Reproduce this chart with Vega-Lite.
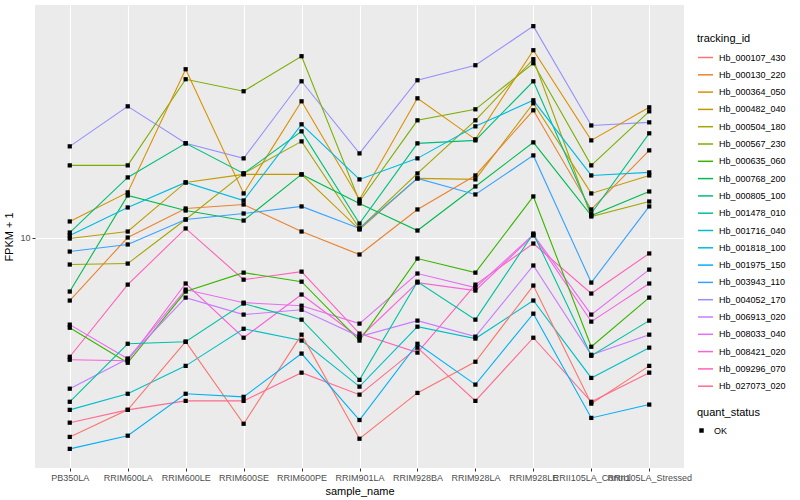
{
  "$schema": "https://vega.github.io/schema/vega-lite/v6.json",
  "width": 649,
  "height": 463,
  "autosize": {"type": "none"},
  "padding": {"left": 35, "top": 5, "right": 116, "bottom": 32},
  "background": "white",
  "data": {"values": [
    {"tracking_id":"Hb_004052_170","sample_name":"PB350LA","fpkm":20.11,"quant_status":"OK"},
    {"tracking_id":"Hb_004052_170","sample_name":"RRIM600LA","fpkm":27.33,"quant_status":"OK"},
    {"tracking_id":"Hb_004052_170","sample_name":"RRIM600LE","fpkm":20.58,"quant_status":"OK"},
    {"tracking_id":"Hb_004052_170","sample_name":"RRIM600SE","fpkm":18.34,"quant_status":"OK"},
    {"tracking_id":"Hb_004052_170","sample_name":"RRIM600PE","fpkm":33.11,"quant_status":"OK"},
    {"tracking_id":"Hb_004052_170","sample_name":"RRIM901LA","fpkm":19.05,"quant_status":"OK"},
    {"tracking_id":"Hb_004052_170","sample_name":"RRIM928BA","fpkm":33.37,"quant_status":"OK"},
    {"tracking_id":"Hb_004052_170","sample_name":"RRIM928LA","fpkm":37.44,"quant_status":"OK"},
    {"tracking_id":"Hb_004052_170","sample_name":"RRIM928LE","fpkm":50.51,"quant_status":"OK"},
    {"tracking_id":"Hb_004052_170","sample_name":"RRII105LA_Control","fpkm":23.6,"quant_status":"OK"},
    {"tracking_id":"Hb_004052_170","sample_name":"RRII105LA_Stressed","fpkm":24.17,"quant_status":"OK"},

    {"tracking_id":"Hb_000567_230","sample_name":"PB350LA","fpkm":17.38,"quant_status":"OK"},
    {"tracking_id":"Hb_000567_230","sample_name":"RRIM600LA","fpkm":17.38,"quant_status":"OK"},
    {"tracking_id":"Hb_000567_230","sample_name":"RRIM600LE","fpkm":33.63,"quant_status":"OK"},
    {"tracking_id":"Hb_000567_230","sample_name":"RRIM600SE","fpkm":30.67,"quant_status":"OK"},
    {"tracking_id":"Hb_000567_230","sample_name":"RRIM600PE","fpkm":40.12,"quant_status":"OK"},
    {"tracking_id":"Hb_000567_230","sample_name":"RRIM901LA","fpkm":13.18,"quant_status":"OK"},
    {"tracking_id":"Hb_000567_230","sample_name":"RRIM928BA","fpkm":24.55,"quant_status":"OK"},
    {"tracking_id":"Hb_000567_230","sample_name":"RRIM928LA","fpkm":26.71,"quant_status":"OK"},
    {"tracking_id":"Hb_000567_230","sample_name":"RRIM928LE","fpkm":38.02,"quant_status":"OK"},
    {"tracking_id":"Hb_000567_230","sample_name":"RRII105LA_Control","fpkm":17.38,"quant_status":"OK"},
    {"tracking_id":"Hb_000567_230","sample_name":"RRII105LA_Stressed","fpkm":26.30,"quant_status":"OK"},

    {"tracking_id":"Hb_000364_050","sample_name":"PB350LA","fpkm":11.31,"quant_status":"OK"},
    {"tracking_id":"Hb_000364_050","sample_name":"RRIM600LA","fpkm":14.13,"quant_status":"OK"},
    {"tracking_id":"Hb_000364_050","sample_name":"RRIM600LE","fpkm":36.31,"quant_status":"OK"},
    {"tracking_id":"Hb_000364_050","sample_name":"RRIM600SE","fpkm":14.02,"quant_status":"OK"},
    {"tracking_id":"Hb_000364_050","sample_name":"RRIM600PE","fpkm":28.40,"quant_status":"OK"},
    {"tracking_id":"Hb_000364_050","sample_name":"RRIM901LA","fpkm":13.39,"quant_status":"OK"},
    {"tracking_id":"Hb_000364_050","sample_name":"RRIM928BA","fpkm":29.06,"quant_status":"OK"},
    {"tracking_id":"Hb_000364_050","sample_name":"RRIM928LA","fpkm":21.22,"quant_status":"OK"},
    {"tracking_id":"Hb_000364_050","sample_name":"RRIM928LE","fpkm":42.01,"quant_status":"OK"},
    {"tracking_id":"Hb_000364_050","sample_name":"RRII105LA_Control","fpkm":21.05,"quant_status":"OK"},
    {"tracking_id":"Hb_000364_050","sample_name":"RRII105LA_Stressed","fpkm":27.12,"quant_status":"OK"},

    {"tracking_id":"Hb_000482_040","sample_name":"PB350LA","fpkm":9.92,"quant_status":"OK"},
    {"tracking_id":"Hb_000482_040","sample_name":"RRIM600LA","fpkm":10.47,"quant_status":"OK"},
    {"tracking_id":"Hb_000482_040","sample_name":"RRIM600LE","fpkm":15.25,"quant_status":"OK"},
    {"tracking_id":"Hb_000482_040","sample_name":"RRIM600SE","fpkm":16.22,"quant_status":"OK"},
    {"tracking_id":"Hb_000482_040","sample_name":"RRIM600PE","fpkm":16.22,"quant_status":"OK"},
    {"tracking_id":"Hb_000482_040","sample_name":"RRIM901LA","fpkm":10.63,"quant_status":"OK"},
    {"tracking_id":"Hb_000482_040","sample_name":"RRIM928BA","fpkm":15.73,"quant_status":"OK"},
    {"tracking_id":"Hb_000482_040","sample_name":"RRIM928LA","fpkm":15.61,"quant_status":"OK"},
    {"tracking_id":"Hb_000482_040","sample_name":"RRIM928LE","fpkm":27.97,"quant_status":"OK"},
    {"tracking_id":"Hb_000482_040","sample_name":"RRII105LA_Control","fpkm":14.02,"quant_status":"OK"},
    {"tracking_id":"Hb_000482_040","sample_name":"RRII105LA_Stressed","fpkm":16.09,"quant_status":"OK"},

    {"tracking_id":"Hb_000504_180","sample_name":"PB350LA","fpkm":8.13,"quant_status":"OK"},
    {"tracking_id":"Hb_000504_180","sample_name":"RRIM600LA","fpkm":8.19,"quant_status":"OK"},
    {"tracking_id":"Hb_000504_180","sample_name":"RRIM600LE","fpkm":11.48,"quant_status":"OK"},
    {"tracking_id":"Hb_000504_180","sample_name":"RRIM600SE","fpkm":16.34,"quant_status":"OK"},
    {"tracking_id":"Hb_000504_180","sample_name":"RRIM600PE","fpkm":20.89,"quant_status":"OK"},
    {"tracking_id":"Hb_000504_180","sample_name":"RRIM901LA","fpkm":10.72,"quant_status":"OK"},
    {"tracking_id":"Hb_000504_180","sample_name":"RRIM928BA","fpkm":16.34,"quant_status":"OK"},
    {"tracking_id":"Hb_000504_180","sample_name":"RRIM928LA","fpkm":24.55,"quant_status":"OK"},
    {"tracking_id":"Hb_000504_180","sample_name":"RRIM928LE","fpkm":39.21,"quant_status":"OK"},
    {"tracking_id":"Hb_000504_180","sample_name":"RRII105LA_Control","fpkm":11.75,"quant_status":"OK"},
    {"tracking_id":"Hb_000504_180","sample_name":"RRII105LA_Stressed","fpkm":13.18,"quant_status":"OK"},

    {"tracking_id":"Hb_000130_220","sample_name":"PB350LA","fpkm":6.17,"quant_status":"OK"},
    {"tracking_id":"Hb_000130_220","sample_name":"RRIM600LA","fpkm":10.00,"quant_status":"OK"},
    {"tracking_id":"Hb_000130_220","sample_name":"RRIM600LE","fpkm":12.49,"quant_status":"OK"},
    {"tracking_id":"Hb_000130_220","sample_name":"RRIM600SE","fpkm":12.88,"quant_status":"OK"},
    {"tracking_id":"Hb_000130_220","sample_name":"RRIM600PE","fpkm":10.47,"quant_status":"OK"},
    {"tracking_id":"Hb_000130_220","sample_name":"RRIM901LA","fpkm":8.78,"quant_status":"OK"},
    {"tracking_id":"Hb_000130_220","sample_name":"RRIM928BA","fpkm":12.40,"quant_status":"OK"},
    {"tracking_id":"Hb_000130_220","sample_name":"RRIM928LA","fpkm":16.09,"quant_status":"OK"},
    {"tracking_id":"Hb_000130_220","sample_name":"RRIM928LE","fpkm":26.51,"quant_status":"OK"},
    {"tracking_id":"Hb_000130_220","sample_name":"RRII105LA_Control","fpkm":12.40,"quant_status":"OK"},
    {"tracking_id":"Hb_000130_220","sample_name":"RRII105LA_Stressed","fpkm":19.50,"quant_status":"OK"},

    {"tracking_id":"Hb_000768_200","sample_name":"PB350LA","fpkm":6.61,"quant_status":"OK"},
    {"tracking_id":"Hb_000768_200","sample_name":"RRIM600LA","fpkm":13.80,"quant_status":"OK"},
    {"tracking_id":"Hb_000768_200","sample_name":"RRIM600LE","fpkm":12.30,"quant_status":"OK"},
    {"tracking_id":"Hb_000768_200","sample_name":"RRIM600SE","fpkm":11.39,"quant_status":"OK"},
    {"tracking_id":"Hb_000768_200","sample_name":"RRIM600PE","fpkm":16.22,"quant_status":"OK"},
    {"tracking_id":"Hb_000768_200","sample_name":"RRIM901LA","fpkm":12.98,"quant_status":"OK"},
    {"tracking_id":"Hb_000768_200","sample_name":"RRIM928BA","fpkm":10.55,"quant_status":"OK"},
    {"tracking_id":"Hb_000768_200","sample_name":"RRIM928LA","fpkm":14.79,"quant_status":"OK"},
    {"tracking_id":"Hb_000768_200","sample_name":"RRIM928LE","fpkm":20.73,"quant_status":"OK"},
    {"tracking_id":"Hb_000768_200","sample_name":"RRII105LA_Control","fpkm":11.84,"quant_status":"OK"},
    {"tracking_id":"Hb_000768_200","sample_name":"RRII105LA_Stressed","fpkm":14.23,"quant_status":"OK"},

    {"tracking_id":"Hb_000805_100","sample_name":"PB350LA","fpkm":10.39,"quant_status":"OK"},
    {"tracking_id":"Hb_000805_100","sample_name":"RRIM600LA","fpkm":15.85,"quant_status":"OK"},
    {"tracking_id":"Hb_000805_100","sample_name":"RRIM600LE","fpkm":20.58,"quant_status":"OK"},
    {"tracking_id":"Hb_000805_100","sample_name":"RRIM600SE","fpkm":16.34,"quant_status":"OK"},
    {"tracking_id":"Hb_000805_100","sample_name":"RRIM600PE","fpkm":22.56,"quant_status":"OK"},
    {"tracking_id":"Hb_000805_100","sample_name":"RRIM901LA","fpkm":11.13,"quant_status":"OK"},
    {"tracking_id":"Hb_000805_100","sample_name":"RRIM928BA","fpkm":20.58,"quant_status":"OK"},
    {"tracking_id":"Hb_000805_100","sample_name":"RRIM928LA","fpkm":21.05,"quant_status":"OK"},
    {"tracking_id":"Hb_000805_100","sample_name":"RRIM928LE","fpkm":33.11,"quant_status":"OK"},
    {"tracking_id":"Hb_000805_100","sample_name":"RRII105LA_Control","fpkm":12.02,"quant_status":"OK"},
    {"tracking_id":"Hb_000805_100","sample_name":"RRII105LA_Stressed","fpkm":22.22,"quant_status":"OK"},

    {"tracking_id":"Hb_001818_100","sample_name":"PB350LA","fpkm":10.16,"quant_status":"OK"},
    {"tracking_id":"Hb_001818_100","sample_name":"RRIM600LA","fpkm":12.59,"quant_status":"OK"},
    {"tracking_id":"Hb_001818_100","sample_name":"RRIM600LE","fpkm":15.25,"quant_status":"OK"},
    {"tracking_id":"Hb_001818_100","sample_name":"RRIM600SE","fpkm":13.28,"quant_status":"OK"},
    {"tracking_id":"Hb_001818_100","sample_name":"RRIM600PE","fpkm":23.81,"quant_status":"OK"},
    {"tracking_id":"Hb_001818_100","sample_name":"RRIM901LA","fpkm":15.61,"quant_status":"OK"},
    {"tracking_id":"Hb_001818_100","sample_name":"RRIM928BA","fpkm":18.34,"quant_status":"OK"},
    {"tracking_id":"Hb_001818_100","sample_name":"RRIM928LA","fpkm":23.44,"quant_status":"OK"},
    {"tracking_id":"Hb_001818_100","sample_name":"RRIM928LE","fpkm":28.62,"quant_status":"OK"},
    {"tracking_id":"Hb_001818_100","sample_name":"RRII105LA_Control","fpkm":16.09,"quant_status":"OK"},
    {"tracking_id":"Hb_001818_100","sample_name":"RRII105LA_Stressed","fpkm":16.47,"quant_status":"OK"},

    {"tracking_id":"Hb_003943_110","sample_name":"PB350LA","fpkm":8.98,"quant_status":"OK"},
    {"tracking_id":"Hb_003943_110","sample_name":"RRIM600LA","fpkm":9.48,"quant_status":"OK"},
    {"tracking_id":"Hb_003943_110","sample_name":"RRIM600LE","fpkm":11.48,"quant_status":"OK"},
    {"tracking_id":"Hb_003943_110","sample_name":"RRIM600SE","fpkm":12.02,"quant_status":"OK"},
    {"tracking_id":"Hb_003943_110","sample_name":"RRIM600PE","fpkm":12.69,"quant_status":"OK"},
    {"tracking_id":"Hb_003943_110","sample_name":"RRIM901LA","fpkm":10.72,"quant_status":"OK"},
    {"tracking_id":"Hb_003943_110","sample_name":"RRIM928BA","fpkm":15.73,"quant_status":"OK"},
    {"tracking_id":"Hb_003943_110","sample_name":"RRIM928LA","fpkm":13.91,"quant_status":"OK"},
    {"tracking_id":"Hb_003943_110","sample_name":"RRIM928LE","fpkm":18.76,"quant_status":"OK"},
    {"tracking_id":"Hb_003943_110","sample_name":"RRII105LA_Control","fpkm":7.08,"quant_status":"OK"},
    {"tracking_id":"Hb_003943_110","sample_name":"RRII105LA_Stressed","fpkm":12.69,"quant_status":"OK"},

    {"tracking_id":"Hb_009296_070","sample_name":"PB350LA","fpkm":4.01,"quant_status":"OK"},
    {"tracking_id":"Hb_009296_070","sample_name":"RRIM600LA","fpkm":6.97,"quant_status":"OK"},
    {"tracking_id":"Hb_009296_070","sample_name":"RRIM600LE","fpkm":10.72,"quant_status":"OK"},
    {"tracking_id":"Hb_009296_070","sample_name":"RRIM600SE","fpkm":7.24,"quant_status":"OK"},
    {"tracking_id":"Hb_009296_070","sample_name":"RRIM600PE","fpkm":7.70,"quant_status":"OK"},
    {"tracking_id":"Hb_009296_070","sample_name":"RRIM901LA","fpkm":4.79,"quant_status":"OK"},
    {"tracking_id":"Hb_009296_070","sample_name":"RRIM928BA","fpkm":4.14,"quant_status":"OK"},
    {"tracking_id":"Hb_009296_070","sample_name":"RRIM928LA","fpkm":6.97,"quant_status":"OK"},
    {"tracking_id":"Hb_009296_070","sample_name":"RRIM928LE","fpkm":9.55,"quant_status":"OK"},
    {"tracking_id":"Hb_009296_070","sample_name":"RRII105LA_Control","fpkm":6.51,"quant_status":"OK"},
    {"tracking_id":"Hb_009296_070","sample_name":"RRII105LA_Stressed","fpkm":8.85,"quant_status":"OK"},

    {"tracking_id":"Hb_008421_020","sample_name":"PB350LA","fpkm":3.92,"quant_status":"OK"},
    {"tracking_id":"Hb_008421_020","sample_name":"RRIM600LA","fpkm":3.89,"quant_status":"OK"},
    {"tracking_id":"Hb_008421_020","sample_name":"RRIM600LE","fpkm":7.03,"quant_status":"OK"},
    {"tracking_id":"Hb_008421_020","sample_name":"RRIM600SE","fpkm":4.64,"quant_status":"OK"},
    {"tracking_id":"Hb_008421_020","sample_name":"RRIM600PE","fpkm":6.46,"quant_status":"OK"},
    {"tracking_id":"Hb_008421_020","sample_name":"RRIM901LA","fpkm":4.64,"quant_status":"OK"},
    {"tracking_id":"Hb_008421_020","sample_name":"RRIM928BA","fpkm":7.08,"quant_status":"OK"},
    {"tracking_id":"Hb_008421_020","sample_name":"RRIM928LA","fpkm":6.66,"quant_status":"OK"},
    {"tracking_id":"Hb_008421_020","sample_name":"RRIM928LE","fpkm":10.16,"quant_status":"OK"},
    {"tracking_id":"Hb_008421_020","sample_name":"RRII105LA_Control","fpkm":5.25,"quant_status":"OK"},
    {"tracking_id":"Hb_008421_020","sample_name":"RRII105LA_Stressed","fpkm":7.03,"quant_status":"OK"},

    {"tracking_id":"Hb_008033_040","sample_name":"PB350LA","fpkm":5.13,"quant_status":"OK"},
    {"tracking_id":"Hb_008033_040","sample_name":"RRIM600LA","fpkm":3.95,"quant_status":"OK"},
    {"tracking_id":"Hb_008033_040","sample_name":"RRIM600LE","fpkm":6.71,"quant_status":"OK"},
    {"tracking_id":"Hb_008033_040","sample_name":"RRIM600SE","fpkm":6.07,"quant_status":"OK"},
    {"tracking_id":"Hb_008033_040","sample_name":"RRIM600PE","fpkm":5.93,"quant_status":"OK"},
    {"tracking_id":"Hb_008033_040","sample_name":"RRIM901LA","fpkm":5.17,"quant_status":"OK"},
    {"tracking_id":"Hb_008033_040","sample_name":"RRIM928BA","fpkm":7.59,"quant_status":"OK"},
    {"tracking_id":"Hb_008033_040","sample_name":"RRIM928LA","fpkm":6.81,"quant_status":"OK"},
    {"tracking_id":"Hb_008033_040","sample_name":"RRIM928LE","fpkm":10.23,"quant_status":"OK"},
    {"tracking_id":"Hb_008033_040","sample_name":"RRII105LA_Control","fpkm":5.54,"quant_status":"OK"},
    {"tracking_id":"Hb_008033_040","sample_name":"RRII105LA_Stressed","fpkm":7.82,"quant_status":"OK"},

    {"tracking_id":"Hb_000635_060","sample_name":"PB350LA","fpkm":5.01,"quant_status":"OK"},
    {"tracking_id":"Hb_000635_060","sample_name":"RRIM600LA","fpkm":3.83,"quant_status":"OK"},
    {"tracking_id":"Hb_000635_060","sample_name":"RRIM600LE","fpkm":6.61,"quant_status":"OK"},
    {"tracking_id":"Hb_000635_060","sample_name":"RRIM600SE","fpkm":7.64,"quant_status":"OK"},
    {"tracking_id":"Hb_000635_060","sample_name":"RRIM600PE","fpkm":7.13,"quant_status":"OK"},
    {"tracking_id":"Hb_000635_060","sample_name":"RRIM901LA","fpkm":4.54,"quant_status":"OK"},
    {"tracking_id":"Hb_000635_060","sample_name":"RRIM928BA","fpkm":8.51,"quant_status":"OK"},
    {"tracking_id":"Hb_000635_060","sample_name":"RRIM928LA","fpkm":7.64,"quant_status":"OK"},
    {"tracking_id":"Hb_000635_060","sample_name":"RRIM928LE","fpkm":13.70,"quant_status":"OK"},
    {"tracking_id":"Hb_000635_060","sample_name":"RRII105LA_Control","fpkm":4.33,"quant_status":"OK"},
    {"tracking_id":"Hb_000635_060","sample_name":"RRII105LA_Stressed","fpkm":6.31,"quant_status":"OK"},

    {"tracking_id":"Hb_006913_020","sample_name":"PB350LA","fpkm":3.14,"quant_status":"OK"},
    {"tracking_id":"Hb_006913_020","sample_name":"RRIM600LA","fpkm":3.95,"quant_status":"OK"},
    {"tracking_id":"Hb_006913_020","sample_name":"RRIM600LE","fpkm":6.31,"quant_status":"OK"},
    {"tracking_id":"Hb_006913_020","sample_name":"RRIM600SE","fpkm":5.54,"quant_status":"OK"},
    {"tracking_id":"Hb_006913_020","sample_name":"RRIM600PE","fpkm":5.75,"quant_status":"OK"},
    {"tracking_id":"Hb_006913_020","sample_name":"RRIM901LA","fpkm":4.68,"quant_status":"OK"},
    {"tracking_id":"Hb_006913_020","sample_name":"RRIM928BA","fpkm":5.29,"quant_status":"OK"},
    {"tracking_id":"Hb_006913_020","sample_name":"RRIM928LA","fpkm":4.68,"quant_status":"OK"},
    {"tracking_id":"Hb_006913_020","sample_name":"RRIM928LE","fpkm":8.07,"quant_status":"OK"},
    {"tracking_id":"Hb_006913_020","sample_name":"RRII105LA_Control","fpkm":4.07,"quant_status":"OK"},
    {"tracking_id":"Hb_006913_020","sample_name":"RRII105LA_Stressed","fpkm":4.75,"quant_status":"OK"},

    {"tracking_id":"Hb_001478_010","sample_name":"PB350LA","fpkm":2.84,"quant_status":"OK"},
    {"tracking_id":"Hb_001478_010","sample_name":"RRIM600LA","fpkm":4.43,"quant_status":"OK"},
    {"tracking_id":"Hb_001478_010","sample_name":"RRIM600LE","fpkm":4.50,"quant_status":"OK"},
    {"tracking_id":"Hb_001478_010","sample_name":"RRIM600SE","fpkm":6.03,"quant_status":"OK"},
    {"tracking_id":"Hb_001478_010","sample_name":"RRIM600PE","fpkm":5.33,"quant_status":"OK"},
    {"tracking_id":"Hb_001478_010","sample_name":"RRIM901LA","fpkm":3.36,"quant_status":"OK"},
    {"tracking_id":"Hb_001478_010","sample_name":"RRIM928BA","fpkm":7.13,"quant_status":"OK"},
    {"tracking_id":"Hb_001478_010","sample_name":"RRIM928LA","fpkm":5.33,"quant_status":"OK"},
    {"tracking_id":"Hb_001478_010","sample_name":"RRIM928LE","fpkm":10.31,"quant_status":"OK"},
    {"tracking_id":"Hb_001478_010","sample_name":"RRII105LA_Control","fpkm":4.04,"quant_status":"OK"},
    {"tracking_id":"Hb_001478_010","sample_name":"RRII105LA_Stressed","fpkm":5.29,"quant_status":"OK"},

    {"tracking_id":"Hb_001716_040","sample_name":"PB350LA","fpkm":2.67,"quant_status":"OK"},
    {"tracking_id":"Hb_001716_040","sample_name":"RRIM600LA","fpkm":3.02,"quant_status":"OK"},
    {"tracking_id":"Hb_001716_040","sample_name":"RRIM600LE","fpkm":3.74,"quant_status":"OK"},
    {"tracking_id":"Hb_001716_040","sample_name":"RRIM600SE","fpkm":4.97,"quant_status":"OK"},
    {"tracking_id":"Hb_001716_040","sample_name":"RRIM600PE","fpkm":4.54,"quant_status":"OK"},
    {"tracking_id":"Hb_001716_040","sample_name":"RRIM901LA","fpkm":3.19,"quant_status":"OK"},
    {"tracking_id":"Hb_001716_040","sample_name":"RRIM928BA","fpkm":5.05,"quant_status":"OK"},
    {"tracking_id":"Hb_001716_040","sample_name":"RRIM928LA","fpkm":4.61,"quant_status":"OK"},
    {"tracking_id":"Hb_001716_040","sample_name":"RRIM928LE","fpkm":6.17,"quant_status":"OK"},
    {"tracking_id":"Hb_001716_040","sample_name":"RRII105LA_Control","fpkm":3.41,"quant_status":"OK"},
    {"tracking_id":"Hb_001716_040","sample_name":"RRII105LA_Stressed","fpkm":4.30,"quant_status":"OK"},

    {"tracking_id":"Hb_000107_430","sample_name":"PB350LA","fpkm":2.17,"quant_status":"OK"},
    {"tracking_id":"Hb_000107_430","sample_name":"RRIM600LA","fpkm":2.67,"quant_status":"OK"},
    {"tracking_id":"Hb_000107_430","sample_name":"RRIM600LE","fpkm":4.50,"quant_status":"OK"},
    {"tracking_id":"Hb_000107_430","sample_name":"RRIM600SE","fpkm":2.40,"quant_status":"OK"},
    {"tracking_id":"Hb_000107_430","sample_name":"RRIM600PE","fpkm":4.75,"quant_status":"OK"},
    {"tracking_id":"Hb_000107_430","sample_name":"RRIM901LA","fpkm":2.14,"quant_status":"OK"},
    {"tracking_id":"Hb_000107_430","sample_name":"RRIM928BA","fpkm":3.04,"quant_status":"OK"},
    {"tracking_id":"Hb_000107_430","sample_name":"RRIM928LA","fpkm":3.86,"quant_status":"OK"},
    {"tracking_id":"Hb_000107_430","sample_name":"RRIM928LE","fpkm":6.92,"quant_status":"OK"},
    {"tracking_id":"Hb_000107_430","sample_name":"RRII105LA_Control","fpkm":2.80,"quant_status":"OK"},
    {"tracking_id":"Hb_000107_430","sample_name":"RRII105LA_Stressed","fpkm":3.74,"quant_status":"OK"},

    {"tracking_id":"Hb_027073_020","sample_name":"PB350LA","fpkm":2.42,"quant_status":"OK"},
    {"tracking_id":"Hb_027073_020","sample_name":"RRIM600LA","fpkm":2.67,"quant_status":"OK"},
    {"tracking_id":"Hb_027073_020","sample_name":"RRIM600LE","fpkm":2.86,"quant_status":"OK"},
    {"tracking_id":"Hb_027073_020","sample_name":"RRIM600SE","fpkm":2.86,"quant_status":"OK"},
    {"tracking_id":"Hb_027073_020","sample_name":"RRIM600PE","fpkm":3.55,"quant_status":"OK"},
    {"tracking_id":"Hb_027073_020","sample_name":"RRIM901LA","fpkm":3.00,"quant_status":"OK"},
    {"tracking_id":"Hb_027073_020","sample_name":"RRIM928BA","fpkm":4.30,"quant_status":"OK"},
    {"tracking_id":"Hb_027073_020","sample_name":"RRIM928LA","fpkm":2.86,"quant_status":"OK"},
    {"tracking_id":"Hb_027073_020","sample_name":"RRIM928LE","fpkm":4.64,"quant_status":"OK"},
    {"tracking_id":"Hb_027073_020","sample_name":"RRII105LA_Control","fpkm":2.84,"quant_status":"OK"},
    {"tracking_id":"Hb_027073_020","sample_name":"RRII105LA_Stressed","fpkm":3.55,"quant_status":"OK"},

    {"tracking_id":"Hb_001975_150","sample_name":"PB350LA","fpkm":1.98,"quant_status":"OK"},
    {"tracking_id":"Hb_001975_150","sample_name":"RRIM600LA","fpkm":2.19,"quant_status":"OK"},
    {"tracking_id":"Hb_001975_150","sample_name":"RRIM600LE","fpkm":3.02,"quant_status":"OK"},
    {"tracking_id":"Hb_001975_150","sample_name":"RRIM600SE","fpkm":2.95,"quant_status":"OK"},
    {"tracking_id":"Hb_001975_150","sample_name":"RRIM600PE","fpkm":4.11,"quant_status":"OK"},
    {"tracking_id":"Hb_001975_150","sample_name":"RRIM901LA","fpkm":2.47,"quant_status":"OK"},
    {"tracking_id":"Hb_001975_150","sample_name":"RRIM928BA","fpkm":4.43,"quant_status":"OK"},
    {"tracking_id":"Hb_001975_150","sample_name":"RRIM928LA","fpkm":3.24,"quant_status":"OK"},
    {"tracking_id":"Hb_001975_150","sample_name":"RRIM928LE","fpkm":5.58,"quant_status":"OK"},
    {"tracking_id":"Hb_001975_150","sample_name":"RRII105LA_Control","fpkm":2.51,"quant_status":"OK"},
    {"tracking_id":"Hb_001975_150","sample_name":"RRII105LA_Stressed","fpkm":2.78,"quant_status":"OK"}
  ]},
  "encoding": {
    "x": {
      "field": "sample_name", "type": "nominal",
      "sort": ["PB350LA","RRIM600LA","RRIM600LE","RRIM600SE","RRIM600PE","RRIM901LA","RRIM928BA","RRIM928LA","RRIM928LE","RRII105LA_Control","RRII105LA_Stressed"],
      "scale": {"type": "point", "padding": 0.6},
      "axis": {"title": "sample_name", "labelAngle": 0, "labelOverlap": false, "labelBound": false, "labelFlush": false, "labelPadding": 2, "titlePadding": 3}
    },
    "y": {
      "field": "fpkm", "type": "quantitative",
      "scale": {"type": "log", "domain": [1.71, 59.4], "nice": false, "zero": false},
      "axis": {"title": "FPKM + 1", "values": [10], "format": "d", "labelPadding": 2, "titlePadding": 5}
    }
  },
  "layer": [
    {
      "mark": {"type": "line", "strokeWidth": 1.1},
      "encoding": {
        "color": {
          "field": "tracking_id", "type": "nominal",
          "scale": {
            "domain": ["Hb_000107_430","Hb_000130_220","Hb_000364_050","Hb_000482_040","Hb_000504_180","Hb_000567_230","Hb_000635_060","Hb_000768_200","Hb_000805_100","Hb_001478_010","Hb_001716_040","Hb_001818_100","Hb_001975_150","Hb_003943_110","Hb_004052_170","Hb_006913_020","Hb_008033_040","Hb_008421_020","Hb_009296_070","Hb_027073_020"],
            "range": ["#F8766D","#EA8331","#D89000","#C09B00","#A3A500","#7CAE00","#39B600","#00BB4E","#00BF7D","#00C1A3","#00BFC4","#00BAE0","#00B0F6","#35A2FF","#9590FF","#C77CFF","#E76BF3","#FA62DB","#FF62BC","#FF6C91"]
          },
          "legend": {"title": "tracking_id", "orient": "none", "legendX": 662, "legendY": 28, "symbolType": "stroke", "symbolStrokeWidth": 1.5, "symbolSize": 225, "rowPadding": 3.3, "labelFontSize": 9, "labelColor": "black", "titleFontSize": 11, "titleFontWeight": "normal", "titleColor": "black", "titlePadding": 5, "labelOffset": 5}
        },
        "detail": {"field": "tracking_id"}
      }
    },
    {
      "mark": {"type": "point", "filled": true, "color": "black", "opacity": 1, "size": 18},
      "encoding": {
        "shape": {
          "field": "quant_status", "type": "nominal",
          "scale": {"domain": ["OK"], "range": ["square"]},
          "legend": {"title": "quant_status", "orient": "none", "legendX": 662, "legendY": 402, "symbolSize": 20, "symbolFillColor": "black", "symbolStrokeColor": "black", "labelFontSize": 9, "labelColor": "black", "titleFontSize": 11, "titleFontWeight": "normal", "titleColor": "black", "titlePadding": 8, "labelOffset": 8}
        }
      }
    }
  ],
  "config": {
    "font": "Liberation Sans",
    "view": {"fill": "#EBEBEB", "stroke": null},
    "axis": {
      "domain": false, "grid": true, "gridColor": "white", "gridWidth": 1.1,
      "tickColor": "#333333", "tickSize": 3, "tickWidth": 1,
      "labelFontSize": 9, "labelColor": "#4D4D4D", "labelFont": "Liberation Sans",
      "titleFontSize": 11, "titleFontWeight": "normal", "titleColor": "black", "titleFont": "Liberation Sans"
    },
    "legend": {"labelFont": "Liberation Sans", "titleFont": "Liberation Sans"}
  }
}
